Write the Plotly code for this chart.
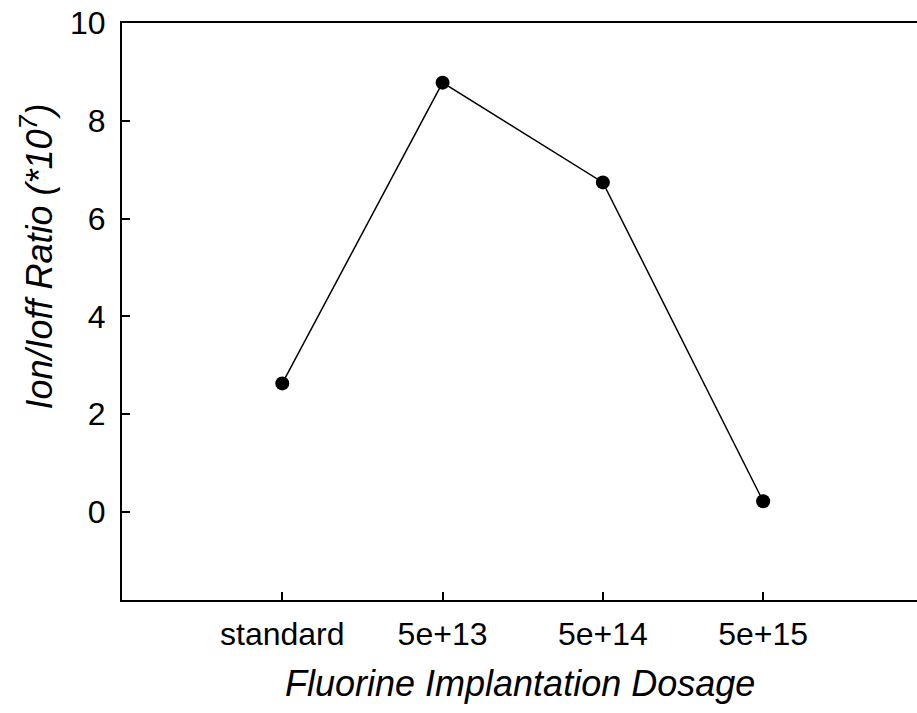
import plotly.graph_objects as go

categories = ["standard", "5e+13", "5e+14", "5e+15"]
ratio_values = [2.63, 8.78, 6.74, 0.22]
y_tick_values = [0, 2, 4, 6, 8, 10]
x_positions = list(range(len(categories)))

FONT = "Liberation Sans, Arial, Helvetica, sans-serif"

fig = go.Figure()
fig.add_trace(go.Scatter(
    x=x_positions, y=ratio_values,
    mode="lines+markers",
    line=dict(color="black", width=1.5),
    marker=dict(color="black", size=14),
    showlegend=False,
))

fig.update_layout(
    width=917, height=713,
    margin=dict(l=122, r=0, t=23, b=113),
    paper_bgcolor="white", plot_bgcolor="white",
    font=dict(family=FONT, color="black"),
    xaxis=dict(
        range=[-1, 3.96],
        tickmode="array", tickvals=x_positions, ticktext=categories,
        ticks="inside", ticklen=8, tickwidth=1.5, tickcolor="black",
        showline=True, linecolor="black", linewidth=2, mirror=True,
        showgrid=False, zeroline=False,
        tickfont=dict(size=32, family=FONT, color="black"),
        ticklabelstandoff=5,
    ),
    yaxis=dict(
        range=[-1.8, 10],
        tickmode="array", tickvals=y_tick_values,
        ticks="inside", ticklen=8, tickwidth=1.5, tickcolor="black",
        showline=True, linecolor="black", linewidth=2, mirror=False,
        showgrid=False, zeroline=False,
        tickfont=dict(size=32, family=FONT, color="black"),
        ticklabelstandoff=8,
    ),
    annotations=[
        dict(text="<i>Fluorine Implantation Dosage</i>", xref="paper", yref="paper",
             x=0.5, y=-0.145, xanchor="center", yanchor="middle", showarrow=False,
             font=dict(size=36, family=FONT, color="black")),
        dict(text="<i>Ion/Ioff Ratio (*10<sup>7</sup>)</i>", xref="paper", yref="paper",
             x=-0.107, y=0.595, xanchor="center", yanchor="middle", showarrow=False,
             textangle=-90, font=dict(size=36, family=FONT, color="black")),
    ],
)

fig.write_html("out.html")
